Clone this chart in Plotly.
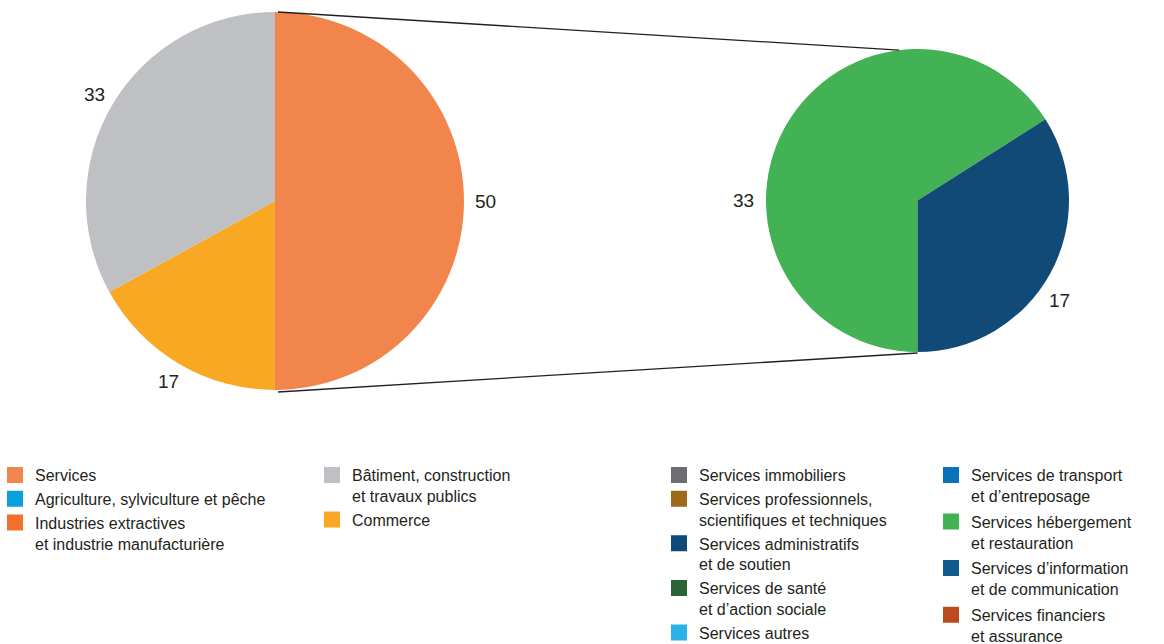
import math
import plotly.graph_objects as go

W, H = 1164, 644

# Répartition par grand secteur (%)
main_labels = ["Services", "Commerce", "Bâtiment, construction et travaux publics"]
main_values = [50, 17, 33]
main_colors = ["#F2854B", "#F9A823", "#BFC0C3"]

# Détail du secteur des services (%)
detail_labels = ["Services hébergement et restauration", "Services administratifs et de soutien"]
detail_values = [33, 17]
detail_colors = ["#42B254", "#124A77"]

# Légendes (quatre colonnes)
legend_cols = [
    (["Services",
      "Agriculture, sylviculture et pêche",
      "Industries extractives<br>et industrie manufacturière"],
     ["#F2854B", "#0BA0DB", "#F07129"]),
    (["Bâtiment, construction<br>et travaux publics",
      "Commerce"],
     ["#BFC0C3", "#F9A823"]),
    (["Services immobiliers",
      "Services professionnels,<br>scientifiques et techniques",
      "Services administratifs<br>et de soutien",
      "Services de santé<br>et d’action sociale",
      "Services autres"],
     ["#6D6E71", "#9E6B1D", "#124A77", "#2A6436", "#29B2E6"]),
    (["Services de transport<br>et d’entreposage",
      "Services hébergement<br>et restauration",
      "Services d’information<br>et de communication",
      "Services financiers<br>et assurance"],
     ["#0A72BB", "#42B254", "#0E5C8B", "#BC4A1F"]),
]

FONT = "Liberation Sans, Arial, Helvetica, sans-serif"
TEXT = "#231F20"

# Géométrie des deux disques (pixels)
MAIN_C, MAIN_R = (275, 201), 189
DETAIL_C, DETAIL_R = (917.5, 200.5), 151.5


def fx(x):
    return x / W


def fy(y):
    return 1 - y / H


def domain(c, r):
    return dict(x=[fx(c[0] - r), fx(c[0] + r)], y=[fy(c[1] + r), fy(c[1] - r)])


fig = go.Figure()

fig.add_trace(go.Pie(
    labels=main_labels, values=main_values, sort=False,
    direction="clockwise", rotation=0,
    marker=dict(colors=main_colors, line=dict(width=0)),
    textinfo="none", showlegend=False, domain=domain(MAIN_C, MAIN_R),
))
fig.add_trace(go.Pie(
    labels=detail_labels, values=detail_values, sort=False,
    direction="clockwise", rotation=180,
    marker=dict(colors=detail_colors, line=dict(width=0)),
    textinfo="none", showlegend=False, domain=domain(DETAIL_C, DETAIL_R),
))

# Entrées de légende
legend_names = ["legend", "legend2", "legend3", "legend4"]
for lname, (labels, colors) in zip(legend_names, legend_cols):
    for i, (lab, col) in enumerate(zip(labels, colors)):
        fig.add_trace(go.Scatter(
            x=[None], y=[None], mode="markers", name=lab,
            marker=dict(symbol="square", size=14, color=col,
                        line=dict(width=2, color=col)),
            legend=lname, legendgroup=f"{lname}-{i}", showlegend=True,
            hoverinfo="skip",
        ))


def label(x, y, v):
    return dict(x=fx(x), y=fy(y), xref="paper", yref="paper",
                xanchor="center", yanchor="middle",
                text=str(v), showarrow=False,
                font=dict(family=FONT, size=19, color=TEXT))


annotations = []
# Étiquettes du disque principal, au milieu de chaque secteur
total = sum(main_values)
start = 0.0
for v in main_values:
    mid = math.radians(start + 360 * v / total / 2)
    start += 360 * v / total
    rr = MAIN_R + 21
    annotations.append(label(MAIN_C[0] + rr * math.sin(mid),
                             MAIN_C[1] - rr * math.cos(mid), v))

# Étiquettes du disque de détail
detail_label_angles = [270, 125]
for v, ang in zip(detail_values, detail_label_angles):
    a = math.radians(ang)
    rr = DETAIL_R + 22
    annotations.append(label(DETAIL_C[0] + rr * math.sin(a),
                             DETAIL_C[1] - rr * math.cos(a), v))

# Lignes de liaison entre les deux disques
top_end = math.radians(-7)
shapes = [
    dict(type="line", xref="paper", yref="paper",
         x0=fx(MAIN_C[0] + 3), y0=fy(MAIN_C[1] - MAIN_R),
         x1=fx(DETAIL_C[0] + DETAIL_R * math.sin(top_end)),
         y1=fy(DETAIL_C[1] - DETAIL_R * math.cos(top_end)),
         line=dict(color=TEXT, width=1.3)),
    dict(type="line", xref="paper", yref="paper",
         x0=fx(MAIN_C[0] + 3), y0=fy(MAIN_C[1] + MAIN_R + 2),
         x1=fx(DETAIL_C[0]), y1=fy(DETAIL_C[1] + DETAIL_R + 1),
         line=dict(color=TEXT, width=1.3)),
]

legend_x = [-5, 312, 659, 931]
legend_gap = [0, 0, 0, 2]
legend_top = 458
legend_layout = {}
for lname, lx, gap in zip(legend_names, legend_x, legend_gap):
    legend_layout[lname] = dict(
        x=fx(lx), y=fy(legend_top), xanchor="left", yanchor="top",
        orientation="v", valign="top", traceorder="grouped",
        tracegroupgap=gap, bgcolor="rgba(0,0,0,0)", borderwidth=0,
        font=dict(family=FONT, size=16, color=TEXT),
        itemclick=False, itemdoubleclick=False,
    )

fig.update_layout(
    width=W, height=H,
    margin=dict(l=0, r=0, t=0, b=0, autoexpand=False),
    paper_bgcolor="white", plot_bgcolor="white",
    xaxis=dict(visible=False), yaxis=dict(visible=False),
    annotations=annotations, shapes=shapes,
    **legend_layout,
)

fig.write_html("out.html")
